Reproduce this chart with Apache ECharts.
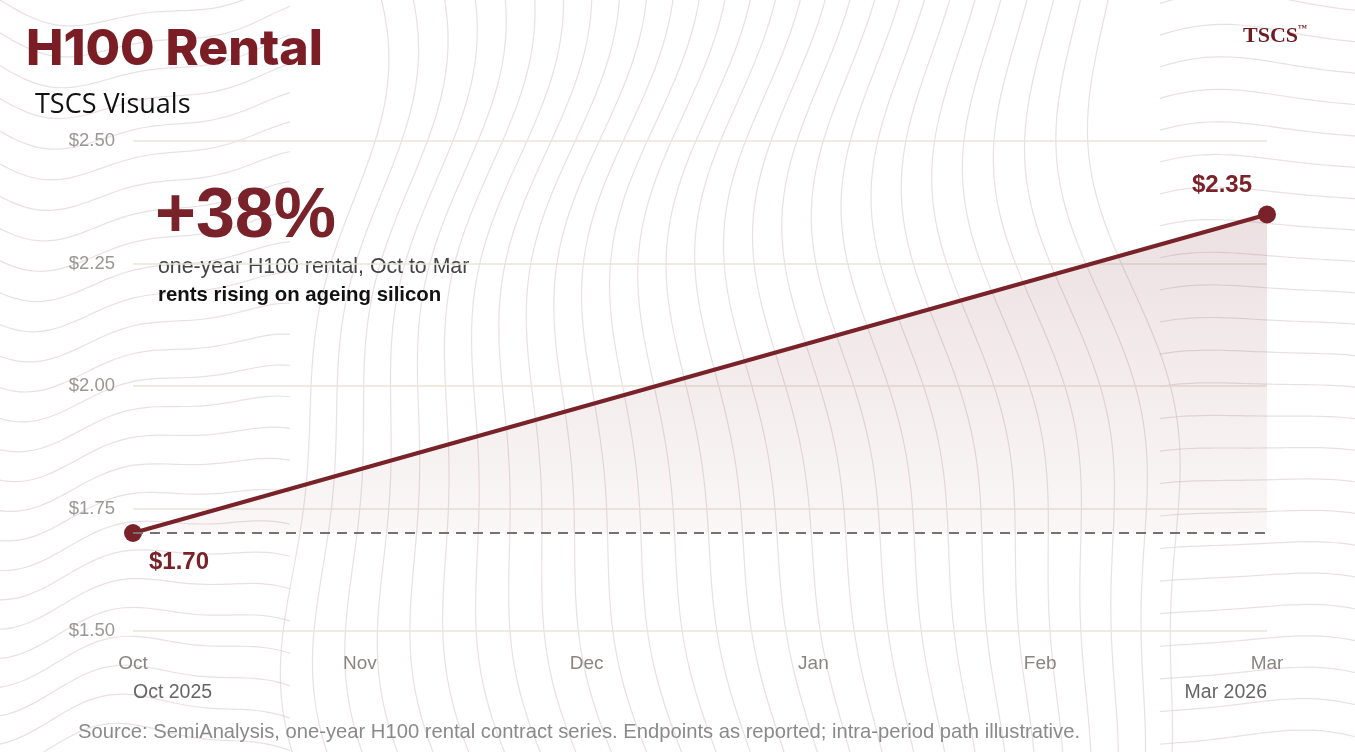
<!DOCTYPE html>
<html>
<head>
<meta charset="utf-8">
<title>H100 Rental</title>
<script src="https://cdn.jsdelivr.net/npm/echarts@6/dist/echarts.min.js"></script>
<style>
  html, body { margin: 0; padding: 0; background: #fff; }
  #chart { width: 1355px; height: 752px; }
</style>
</head>
<body>
<div id="chart"></div>
<script>
// data
var months = ['Oct', 'Nov', 'Dec', 'Jan', 'Feb', 'Mar'];
var rentX = [0, 5];            // month index of reported endpoints
var rentPrice = [1.70, 2.35];  // $/hr, one-year H100 contract
var yTicks = [1.50, 1.75, 2.00, 2.25, 2.50];

var RED = '#7a2229';
var pct = Math.round((rentPrice[1] / rentPrice[0] - 1) * 100);

// decorative contour lines in the background (not data)
function contourLines() {
  var out = [];
  var style = { stroke: 'rgba(215,198,202,0.55)', lineWidth: 1.2, fill: null };
  function add(pts) {
    out.push({ type: 'polyline', z: -10, silent: true, shape: { points: pts, smooth: 0.3 }, style: style });
  }
  // vertical waves through the middle, shared displacement so they never cross
  for (var x0 = 330; x0 <= 1150; x0 += 30) {
    var pts = [];
    for (var y = -10; y <= 770; y += 15) {
      var dx = 45 * Math.sin(y / 170 + x0 / 260) + 14 * Math.sin(y / 70 + x0 / 500);
      pts.push([x0 + dx, y]);
    }
    add(pts);
  }
  // horizontal waves on the left
  for (var y0 = 0; y0 <= 770; y0 += 30) {
    var p2 = [];
    for (var x = -10; x <= 300; x += 12) {
      p2.push([x, y0 + 24 * Math.sin(x / 70 + y0 / 300) + 8 * Math.sin(x / 30 + y0 / 500)]);
    }
    add(p2);
  }
  // arcs on the right
  for (var y1 = 10; y1 <= 770; y1 += 32) {
    var p3 = [];
    for (var xx = 1160; xx <= 1365; xx += 10) {
      p3.push([xx, y1 - 16 * Math.cos((xx - 1260) / 70) + 6 * Math.sin(xx / 40 + y1 / 300)]);
    }
    add(p3);
  }
  return out;
}

var myChart = echarts.init(document.getElementById('chart'));

var option = {
  backgroundColor: '#fff',
  animation: false,
  grid: { left: 133, right: 88, top: 141, bottom: 121 },
  xAxis: {
    type: 'value',
    min: 0,
    max: months.length - 1,
    interval: 1,
    axisLine: { show: false },
    axisTick: { show: false },
    splitLine: { show: false },
    axisLabel: {
      color: '#8a8580',
      fontSize: 19,
      fontFamily: 'Liberation Sans',
      margin: 23,
      formatter: function (v) { return months[v]; }
    }
  },
  yAxis: {
    type: 'value',
    min: yTicks[0],
    max: yTicks[yTicks.length - 1],
    interval: 0.25,
    axisLine: { show: false },
    axisTick: { show: false },
    splitLine: { lineStyle: { color: '#e9e5da', width: 1.5 } },
    axisLabel: {
      color: '#9a9794',
      fontSize: 18.5,
      fontFamily: 'Liberation Sans',
      margin: 18,
      formatter: function (v) { return '$' + v.toFixed(2); }
    }
  },
  series: [{
    type: 'line',
    data: rentX.map(function (x, i) {
      return {
        value: [x, rentPrice[i]],
        label: i === 0
          ? { position: 'bottom', offset: [46, 3] }
          : { position: 'top', offset: [-45, -3] }
      };
    }),
    symbol: 'circle',
    symbolSize: 18,
    itemStyle: { color: RED },
    lineStyle: { color: RED, width: 4 },
    areaStyle: {
      origin: rentPrice[0],
      color: {
        type: 'linear', x: 0, y: 0, x2: 0, y2: 1,
        colorStops: [
          { offset: 0, color: 'rgba(122,34,41,0.2)' },
          { offset: 1, color: 'rgba(122,34,41,0.05)' }
        ]
      }
    },
    label: {
      show: true,
      color: RED,
      fontSize: 24,
      fontWeight: 'bold',
      fontFamily: 'Liberation Sans',
      formatter: function (p) { return '$' + p.value[1].toFixed(2); }
    },
    markLine: {
      silent: true,
      symbol: 'none',
      label: { show: false },
      lineStyle: { color: '#77726d', type: [10, 7], width: 2 },
      data: [{ yAxis: rentPrice[0] }]
    }
  }],
  graphic: contourLines().concat([
    {
      type: 'text', left: 26, top: 25,
      style: { text: 'H100 Rental', fill: '#7b1d24', font: '800 50px Inter' }
    },
    {
      type: 'text', left: 35, top: 92,
      style: { text: 'TSCS Visuals', fill: '#111', font: '27px "Open Sans"' }
    },
    {
      type: 'text', left: 1243, top: 24,
      style: {
        text: '{a|TSCS}{b|\u2122}',
        rich: {
          a: { fill: '#6e1c22', font: 'bold 22px "Liberation Serif"', verticalAlign: 'bottom' },
          b: { fill: '#6e1c22', font: 'bold 9px "Liberation Serif"', verticalAlign: 'top', padding: [0, 0, 14, 0] }
        }
      }
    },
    {
      type: 'text', left: 155, top: 183,
      style: { text: '+' + pct + '%', fill: RED, font: 'bold 70px "Liberation Sans"' }
    },
    {
      type: 'text', left: 158, top: 257,
      style: { text: 'one-year H100 rental, Oct to Mar', fill: '#444', font: '21.3px "Liberation Sans"' }
    },
    {
      type: 'text', left: 158, top: 285,
      style: { text: 'rents rising on ageing silicon', fill: '#111', font: 'bold 20.4px "Liberation Sans"' }
    },
    {
      type: 'text', left: 133, top: 683,
      style: { text: 'Oct 2025', fill: '#666', font: '19.5px "Liberation Sans"' }
    },
    {
      type: 'text', right: 88, top: 683,
      style: { text: 'Mar 2026', fill: '#666', font: '19.5px "Liberation Sans"' }
    },
    {
      type: 'text', left: 78, top: 722,
      style: {
        text: 'Source: SemiAnalysis, one-year H100 rental contract series. Endpoints as reported; intra-period path illustrative.',
        fill: '#8a8a8a', font: '20.2px "Liberation Sans"'
      }
    }
  ])
};

myChart.setOption(option);
window.addEventListener('resize', function () {
  myChart.resize();
});
</script>
</body>
</html>
